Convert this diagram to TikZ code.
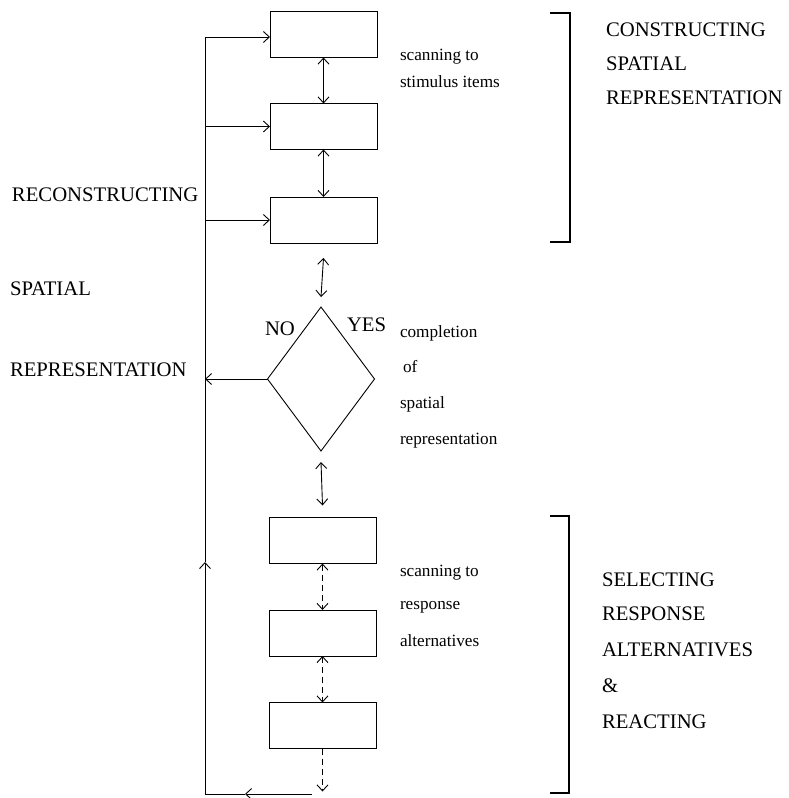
\documentclass[tikz,border=0pt]{standalone}
\usepackage{fontspec}
\setmainfont{Liberation Serif}
\usetikzlibrary{arrows.meta,shapes.geometric}
\begin{document}
\begin{tikzpicture}[x=1pt,y=-1pt,
  every node/.style={inner sep=0pt,outer sep=0pt},
  box/.style={draw,line width=0.9pt,minimum width=107pt,minimum height=46pt},
  dec/.style={draw,diamond,line width=0.9pt,minimum width=107pt,minimum height=144pt},
  lbl/.style={anchor=west,font=\fontsize{20.7}{24}\selectfont},
  sml/.style={anchor=west,font=\fontsize{17.2}{20}\selectfont},
  ln/.style={line width=0.9pt},
  tip/.style={-{Straight Barb[length=6pt,width=11pt,line width=0.9pt]}},
  dtip/.style={{Straight Barb[length=6pt,width=11pt,line width=0.9pt]}-{Straight Barb[length=6pt,width=11pt,line width=0.9pt]}},
  brk/.style={line width=2.2pt}]
\useasboundingbox (0,0) rectangle (788,798);
% boxes
\node[box] (b1) at (323.5,34.5) {};
\node[box] (b2) at (323.5,126.5) {};
\node[box] (b3) at (323.5,220) {};
\node[dec] (d) at (321,379) {};
\node[box] (b4) at (322.5,540.5) {};
\node[box] (b5) at (322.5,633) {};
\node[box] (b6) at (322.5,725.5) {};
% vertical arrows
\draw[ln,dtip] (b1.south) -- (b2.north);
\draw[ln,dtip] (b2.south) -- (b3.north);
\draw[ln,dtip] ([yshift=-15pt]b3.south) -- ([yshift=10pt]d.north);
\draw[ln,dtip] ([yshift=-11pt]d.south) -- ([yshift=12pt]b4.north);
\draw[ln,dtip,dashed,dash pattern=on 6pt off 4pt] (b4.south) -- (b5.north);
\draw[ln,dtip,dashed,dash pattern=on 6pt off 4pt] (b5.south) -- (b6.north);
\coordinate (e6) at ([yshift=-43pt]b6.south);
\draw[ln,tip,dashed,dash pattern=on 6pt off 4pt] (b6.south) -- (e6);
% left loop
\coordinate (bs) at (312,794);
\coordinate (bl) at (205,794);
\coordinate (bm) at (245,794);
\coordinate (lm) at (205,562);
\coordinate (tl) at (205,37);
\coordinate (no) at (205,379);
\draw[ln,tip] (bs) -- (bm);
\draw[ln] (bm) -- (bl);
\draw[ln,tip] (bl) -- (lm);
\draw[ln] (lm) -- (tl);
\draw[ln,tip] (tl) -- (b1.west |- tl);
\draw[ln,tip] (tl |- b2.west) -- (b2.west);
\draw[ln,tip] (tl |- b3.west) -- (b3.west);
\draw[ln,tip] (d.west) -- (no);
% brackets
\draw[brk] (550,13) -- (570,13) -- (570,242) -- (550,242);
\draw[brk] (550,516) -- (569,516) -- (569,793) -- (550,793);
% labels
\node[lbl] (no1) at (265,329) {NO};
\node[lbl] (yes) at (347,325) {YES};
\node[sml] (t1) at (400,57) {scanning to};
\node[sml] (t2) at (400,82) {stimulus items};
\node[lbl] (c1) at (606,30) {CONSTRUCTING};
\node[lbl] (c2) at (606,64) {SPATIAL};
\node[lbl] (c3) at (606,98) {REPRESENTATION};
\node[lbl] (r1) at (12,195) {RECONSTRUCTING};
\node[lbl] (r2) at (10,289) {SPATIAL};
\node[lbl] (r3) at (10,370) {REPRESENTATION};
\node[sml] (p1) at (400,333) {completion};
\node[sml] (p2) at (403,367) {of};
\node[sml] (p3) at (400,404) {spatial};
\node[sml] (p4) at (400,441) {representation};
\node[sml] (s1) at (400,573) {scanning to};
\node[sml] (s2) at (400,607) {response};
\node[sml] (s3) at (400,641) {alternatives};
\node[lbl] (a1) at (602,580) {SELECTING};
\node[lbl] (a2) at (602,614) {RESPONSE};
\node[lbl] (a3) at (602,650) {ALTERNATIVES};
\node[lbl] (a4) at (602,686) {\&};
\node[lbl] (a5) at (602,722) {REACTING};
\end{tikzpicture}
\end{document}
